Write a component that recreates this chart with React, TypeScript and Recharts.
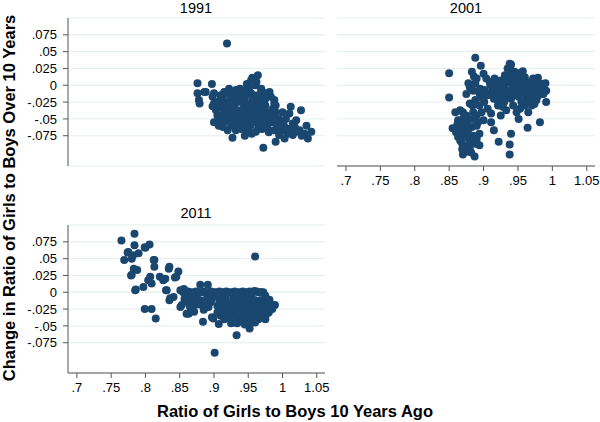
import { ScatterChart, Scatter, XAxis, YAxis, CartesianGrid } from 'recharts';

const FONT = '"Liberation Sans", Arial, Helvetica, sans-serif';
const NAVY = '#1a476f';
const GRID = '#e4eded';
const AXIS = '#555';

const X_TICKS = [0.7, 0.75, 0.8, 0.85, 0.9, 0.95, 1, 1.05];
const X_LABELS = ['.7', '.75', '.8', '.85', '.9', '.95', '1', '1.05'];
const Y_TICKS = [-0.075, -0.05, -0.025, 0, 0.025, 0.05, 0.075];
const Y_LABELS = ['-.075', '-.05', '-.025', '0', '.025', '.05', '.075'];
const X_DOMAIN = [0.687, 1.062];
const Y_DOMAIN = [-0.12, 0.1];

const YEARS = ['1991', '2001', '2011'];

// [ratio 10 years ago, change over 10 years]
const PTS_1991: [number, number][] = [
  [0.919, 0.062],
  [0.876, 0.003], [0.897, 0.002],
  [0.876, -0.012], [0.878, -0.022], [0.879, -0.027], [0.886, -0.01], [0.888, -0.01],
  [0.898, -0.017], [0.898, -0.031], [0.9, -0.027], [0.9, -0.012], [0.91, -0.015], [0.913, -0.03], [0.913, -0.017],
  [0.907, -0.06], [0.91, -0.045], [0.927, -0.078], [0.972, -0.093], [0.99, -0.084],
  [0.964, 0.015], [0.956, 0.011], [0.954, 0.007], [0.969, -0.005], [0.949, -0.003], [0.937, -0.006], [0.981, -0.01], [0.988, -0.022],
  [1.037, -0.079], [1.042, -0.069], [1.035, -0.06], [1.027, -0.037], [1.012, -0.032], [1.01, -0.042], [1.02, -0.052], [1.025, -0.067],
  [1.0, -0.067], [1.007, -0.072], [0.995, -0.06], [0.985, -0.047], [0.983, -0.017], [0.988, -0.027], [0.969, -0.007], [0.966, -0.022],
  [0.961, -0.032], [0.973, -0.037], [0.976, -0.05], [0.966, -0.06], [0.961, -0.069], [0.954, -0.057], [0.949, -0.045], [0.944, -0.032],
  [0.937, -0.017], [0.932, -0.007], [0.927, -0.02], [0.922, -0.032], [0.917, -0.042], [0.907, -0.057], [0.915, -0.055],
  [0.925, -0.06], [0.932, -0.067], [0.942, -0.062], [0.949, -0.069], [0.934, -0.05], [0.939, -0.037], [0.927, -0.042], [0.92, -0.025],
  [0.956, -0.022], [0.954, -0.012], [0.944, -0.01], [0.958, -0.042], [0.969, -0.045], [0.978, -0.062], [0.988, -0.067], [0.995, -0.074],
  [1.005, -0.064], [1.015, -0.057], [1.02, -0.069], [1.032, -0.072], [1.015, -0.074], [1.003, -0.079], [0.92, -0.067], [0.913, -0.062],
  [0.9, -0.055], [0.903, -0.037], [0.907, -0.03], [0.915, -0.01], [0.922, -0.005],
  [0.905, -0.025], [0.915, -0.04], [0.925, -0.035], [0.93, -0.05], [0.935, -0.04], [0.94, -0.025], [0.945, -0.055], [0.95, -0.035],
  [0.955, -0.05], [0.96, -0.025], [0.965, -0.04], [0.97, -0.055], [0.975, -0.03], [0.98, -0.045], [0.985, -0.055], [0.99, -0.04],
  [0.995, -0.05], [1.0, -0.055], [0.92, -0.05], [0.93, -0.06], [0.94, -0.045], [0.95, -0.065], [0.96, -0.055], [0.97, -0.065],
  [0.98, -0.07], [0.935, -0.015], [0.945, -0.02], [0.955, -0.03], [0.965, -0.015], [0.975, -0.02], [0.91, -0.02], [0.918, -0.012],
  [0.928, -0.01], [0.938, -0.005], [0.948, 0.002], [0.96, 0.0], [0.97, -0.03], [0.99, -0.03], [1.0, -0.04], [1.005, -0.05],
  [0.905, -0.045], [0.912, -0.05], [0.918, -0.03], [0.923, -0.045], [0.928, -0.055], [0.933, -0.025], [0.936, -0.058], [0.941, -0.05],
  [0.943, -0.04], [0.947, -0.028], [0.951, -0.045], [0.953, -0.06], [0.957, -0.038], [0.962, -0.05], [0.964, -0.065], [0.967, -0.035],
  [0.972, -0.045], [0.974, -0.06], [0.978, -0.04], [0.982, -0.055], [0.986, -0.035], [0.992, -0.06], [0.996, -0.065], [1.002, -0.06],
  [1.01, -0.065], [1.018, -0.062], [1.028, -0.075], [0.946, -0.015], [0.951, -0.005], [0.958, -0.015], [0.962, 0.005], [0.975, -0.012],
  [0.93, -0.03], [0.924, -0.015], [0.914, -0.035], [0.908, -0.048], [0.94, -0.065], [0.955, -0.072], [0.945, -0.075],
];

const PTS_2001: [number, number][] = [
  [0.85, 0.018], [0.85, -0.018], [0.888, 0.041], [0.896, 0.029], [0.883, 0.02], [0.9, 0.017], [0.94, 0.031], [0.938, 0.032],
  [0.94, 0.022], [0.957, 0.021], [0.979, 0.011], [0.991, -0.008], [0.991, -0.025], [0.982, -0.055], [0.964, -0.063], [0.951, -0.05],
  [0.94, -0.072], [0.938, -0.088], [0.938, -0.103], [0.922, -0.084], [0.915, -0.067], [0.9, -0.052], [0.885, -0.04], [0.875, -0.013],
  [0.888, 0.003], [0.878, 0.003], [0.859, -0.04], [0.866, -0.037], [0.863, -0.052], [0.855, -0.064], [0.863, -0.077], [0.87, -0.092],
  [0.875, -0.099], [0.887, -0.106], [0.888, -0.087], [0.883, -0.062], [0.894, -0.072], [0.894, -0.089], [0.878, -0.079], [0.871, -0.069],
  [0.89, -0.06], [0.88, -0.027], [0.888, -0.022], [0.894, -0.03], [0.901, -0.025], [0.909, -0.012], [0.911, -0.042], [0.911, -0.055],
  [0.909, 0.005], [0.904, 0.01], [0.916, 0.01], [0.923, -0.003], [0.92, -0.022], [0.928, -0.032], [0.933, -0.015], [0.94, 0.003],
  [0.945, -0.007], [0.951, -0.017], [0.953, 0.005], [0.96, -0.003], [0.962, -0.017], [0.968, 0.005], [0.973, -0.007], [0.977, -0.022],
  [0.97, -0.03], [0.965, -0.04], [0.953, -0.035], [0.943, -0.03], [0.933, -0.037], [0.925, -0.045], [0.918, -0.012], [0.913, -0.007],
  [0.982, 0.003], [0.985, -0.01], [0.975, 0.007], [0.931, 0.015], [0.925, 0.007], [0.948, 0.015], [0.958, 0.01], [0.901, -0.007],
  [0.894, -0.012], [0.87, -0.103], [0.868, -0.085], [0.88, -0.095], [0.885, -0.075], [0.872, -0.06], [0.86, -0.07],
  [0.93, 0.0], [0.935, -0.008], [0.94, -0.02], [0.945, 0.008], [0.95, -0.01], [0.955, -0.025], [0.96, 0.012], [0.965, -0.01],
  [0.97, -0.018], [0.975, -0.01], [0.98, -0.015], [0.985, 0.0], [0.92, 0.005], [0.925, -0.015], [0.93, -0.025], [0.915, -0.02],
  [0.91, 0.0], [0.905, -0.015], [0.895, -0.005], [0.885, -0.008], [0.89, 0.01], [0.945, 0.02], [0.935, 0.025], [0.962, 0.002],
  [0.972, -0.002], [0.948, -0.04], [0.96, -0.03], [0.99, 0.003], [0.875, -0.045], [0.89, -0.045], [0.87, -0.05], [0.865, -0.065],
  [0.878, -0.065], [0.882, -0.085], [0.876, -0.09], [0.89, -0.08], [0.866, -0.082],
  [0.926, -0.01], [0.932, 0.008], [0.937, -0.012], [0.942, 0.0], [0.944, -0.015], [0.947, 0.005], [0.952, -0.003], [0.955, 0.01],
  [0.957, -0.012], [0.963, -0.006], [0.967, 0.0], [0.972, 0.01], [0.976, -0.005], [0.979, -0.013], [0.983, -0.006], [0.987, -0.013],
  [0.936, 0.018], [0.942, 0.012], [0.95, 0.018], [0.928, 0.002], [0.918, -0.005], [0.912, -0.015], [0.921, -0.03], [0.906, -0.035],
  [0.897, -0.04], [0.884, -0.03], [0.87, -0.04], [0.876, -0.055], [0.862, -0.058], [0.884, -0.05], [0.873, -0.075], [0.882, -0.1],
  [0.869, -0.095], [0.877, -0.068], [0.892, -0.055], [0.896, -0.018], [0.88, -0.003], [0.886, 0.013], [0.958, -0.025], [0.966, -0.025],
  [0.974, -0.028],
];

const PTS_2011: [number, number][] = [
  [0.765, 0.077], [0.784, 0.087], [0.769, 0.048], [0.774, 0.059], [0.784, 0.07], [0.782, 0.055], [0.78, 0.05], [0.79, 0.058],
  [0.799, 0.067], [0.806, 0.071], [0.78, 0.026], [0.783, 0.035], [0.788, 0.033], [0.785, 0.003], [0.797, 0.008], [0.813, 0.048],
  [0.813, 0.038], [0.807, 0.023], [0.804, 0.018], [0.809, 0.013], [0.821, 0.023], [0.826, 0.018], [0.834, 0.035], [0.848, 0.031],
  [0.843, 0.022], [0.83, 0.003], [0.799, -0.025], [0.809, -0.025], [0.815, -0.039], [0.835, -0.012], [0.841, -0.007], [0.851, -0.022],
  [0.851, 0.003], [0.863, -0.032], [0.871, -0.029], [0.88, 0.011], [0.891, 0.011], [0.884, -0.044], [0.886, -0.024], [0.899, -0.039],
  [0.907, -0.047], [0.901, -0.09], [0.933, -0.064], [0.925, -0.046], [0.934, -0.046], [0.952, -0.054], [0.96, 0.053], [0.989, -0.019],
  [0.981, -0.011], [0.976, -0.033], [0.969, 0.0], [0.959, 0.002], [0.853, -0.019], [0.885, -0.026], [0.897, -0.037], [0.926, -0.044],
  [0.936, -0.044], [0.967, -0.022], [0.96, -0.032], [0.775, 0.06], [0.8, 0.066], [0.779, 0.025], [0.812, 0.048], [0.829, 0.02],
  [0.835, 0.038], [0.845, 0.023], [0.831, 0.003], [0.786, 0.004], [0.836, -0.009], [0.86, -0.032], [0.856, 0.005], [0.858, -0.002],
  [0.855, 0.0], [0.862, 0.001], [0.87, 0.0], [0.878, 0.0], [0.885, 0.001], [0.893, 0.0], [0.9, 0.0], [0.908, 0.001],
  [0.915, 0.0], [0.922, 0.0], [0.93, 0.001], [0.938, 0.0], [0.945, 0.0], [0.952, 0.001], [0.965, 0.0], [0.972, 0.0],
  [0.86, -0.005], [0.865, -0.01], [0.87, -0.008], [0.875, -0.003], [0.88, -0.012], [0.89, -0.008], [0.895, -0.015], [0.9, -0.005],
  [0.905, -0.02], [0.91, -0.01], [0.912, -0.028], [0.918, -0.015], [0.92, -0.035], [0.925, -0.022], [0.928, -0.008], [0.932, -0.03],
  [0.935, -0.015], [0.938, -0.038], [0.94, -0.025], [0.943, -0.005], [0.946, -0.032], [0.948, -0.018], [0.95, -0.04], [0.953, -0.025],
  [0.956, -0.01], [0.958, -0.035], [0.962, -0.02], [0.965, -0.04], [0.968, -0.012], [0.97, -0.028], [0.974, -0.035], [0.978, -0.022],
  [0.985, -0.025], [0.93, -0.045], [0.915, -0.04], [0.96, -0.045], [0.945, -0.048], [0.922, -0.028], [0.905, -0.03], [0.935, -0.003],
  [0.957, 0.0], [0.975, -0.005], [0.87, -0.02], [0.878, -0.018], [0.862, -0.015], [0.892, -0.022],
  [0.858, 0.002], [0.866, 0.0], [0.874, 0.001], [0.882, 0.0], [0.889, 0.0], [0.896, 0.001], [0.904, 0.0], [0.911, 0.0],
  [0.918, 0.001], [0.926, 0.0], [0.934, 0.0], [0.942, 0.001], [0.948, 0.0], [0.955, 0.0], [0.962, 0.001], [0.968, 0.0],
  [0.908, -0.012], [0.913, -0.02], [0.917, -0.008], [0.921, -0.018], [0.924, -0.035], [0.927, -0.015], [0.93, -0.038], [0.933, -0.01],
  [0.936, -0.025], [0.939, -0.015], [0.942, -0.035], [0.944, -0.018], [0.947, -0.01], [0.949, -0.028], [0.952, -0.015], [0.954, -0.035],
  [0.957, -0.02], [0.96, -0.012], [0.963, -0.03], [0.966, -0.015], [0.969, -0.035], [0.972, -0.02], [0.976, -0.012], [0.98, -0.03],
  [0.983, -0.018], [0.975, -0.04], [0.955, -0.045], [0.94, -0.04], [0.925, -0.04], [0.91, -0.035], [0.95, -0.006], [0.93, -0.02],
  [0.918, -0.025], [0.885, -0.015], [0.897, -0.01], [0.868, -0.005], [0.873, -0.012], [0.865, -0.022], [0.857, -0.01],
];

const toRows = (pts: [number, number][]) => pts.map(([x, y]) => ({ x, y }));

const Dot = (props: any) => <circle cx={props.cx} cy={props.cy} r={4} fill={NAVY} />;

const tickStyle = { fill: '#000', fontSize: 13, fontFamily: FONT };

function Panel({ pts, showX, showY, width, height, margin }: any) {
  return (
    <ScatterChart width={width} height={height} margin={margin}>
      <CartesianGrid vertical={false} stroke={GRID} strokeWidth={1} />
      <XAxis
        type="number"
        dataKey="x"
        domain={X_DOMAIN}
        ticks={X_TICKS}
        tickFormatter={(_v: number, i: number) => X_LABELS[i]}
        hide={!showX}
        height={showX ? 30 : 0}
        stroke={AXIS}
        tickSize={5}
        tickMargin={5}
        tick={tickStyle}
        interval={0}
      />
      <YAxis
        type="number"
        dataKey="y"
        domain={Y_DOMAIN}
        ticks={Y_TICKS}
        tickFormatter={(_v: number, i: number) => Y_LABELS[i]}
        hide={!showY}
        width={showY ? 68 : 0}
        stroke={AXIS}
        tickSize={5}
        tickMargin={6}
        tick={tickStyle}
        interval={0}
      />
      <Scatter data={toRows(pts)} shape={Dot} isAnimationActive={false} />
    </ScatterChart>
  );
}

export default function App() {
  return (
    <div style={{ position: 'absolute', left: 0, top: 0, width: 600, height: 422, background: '#fff', fontFamily: FONT }}>
      <div style={{ position: 'absolute', left: 0, top: 0 }}>
        <Panel pts={PTS_1991} showX={false} showY width={330} height={200} margin={{ top: 18, right: 5, bottom: 34, left: 0 }} />
      </div>
      <div style={{ position: 'absolute', left: 330, top: 0 }}>
        <Panel pts={PTS_2001} showX showY={false} width={270} height={196} margin={{ top: 18, right: 5, bottom: 0, left: 7 }} />
      </div>
      <div style={{ position: 'absolute', left: 0, top: 200 }}>
        <Panel pts={PTS_2011} showX showY width={330} height={203} margin={{ top: 25, right: 5, bottom: 0, left: 0 }} />
      </div>
      <svg width={600} height={422} style={{ position: 'absolute', left: 0, top: 0, pointerEvents: 'none' }}>
        <text x={196} y={8} textAnchor="middle" dominantBaseline="central" fontSize={14.5} fontFamily={FONT}>{YEARS[0]}</text>
        <text x={466} y={8} textAnchor="middle" dominantBaseline="central" fontSize={14.5} fontFamily={FONT}>{YEARS[1]}</text>
        <text x={196} y={213} textAnchor="middle" dominantBaseline="central" fontSize={14.5} fontFamily={FONT}>{YEARS[2]}</text>
        <text
          transform="translate(9, 198) rotate(-90)"
          textAnchor="middle"
          dominantBaseline="central"
          fontSize={16.5}
          fontWeight="bold"
          fontFamily={FONT}
        >
          Change in Ratio of Girls to Boys Over 10 Years
        </text>
        <text x={295} y={411} textAnchor="middle" dominantBaseline="central" fontSize={16.5} fontWeight="bold" fontFamily={FONT}>
          Ratio of Girls to Boys 10 Years Ago
        </text>
      </svg>
    </div>
  );
}
